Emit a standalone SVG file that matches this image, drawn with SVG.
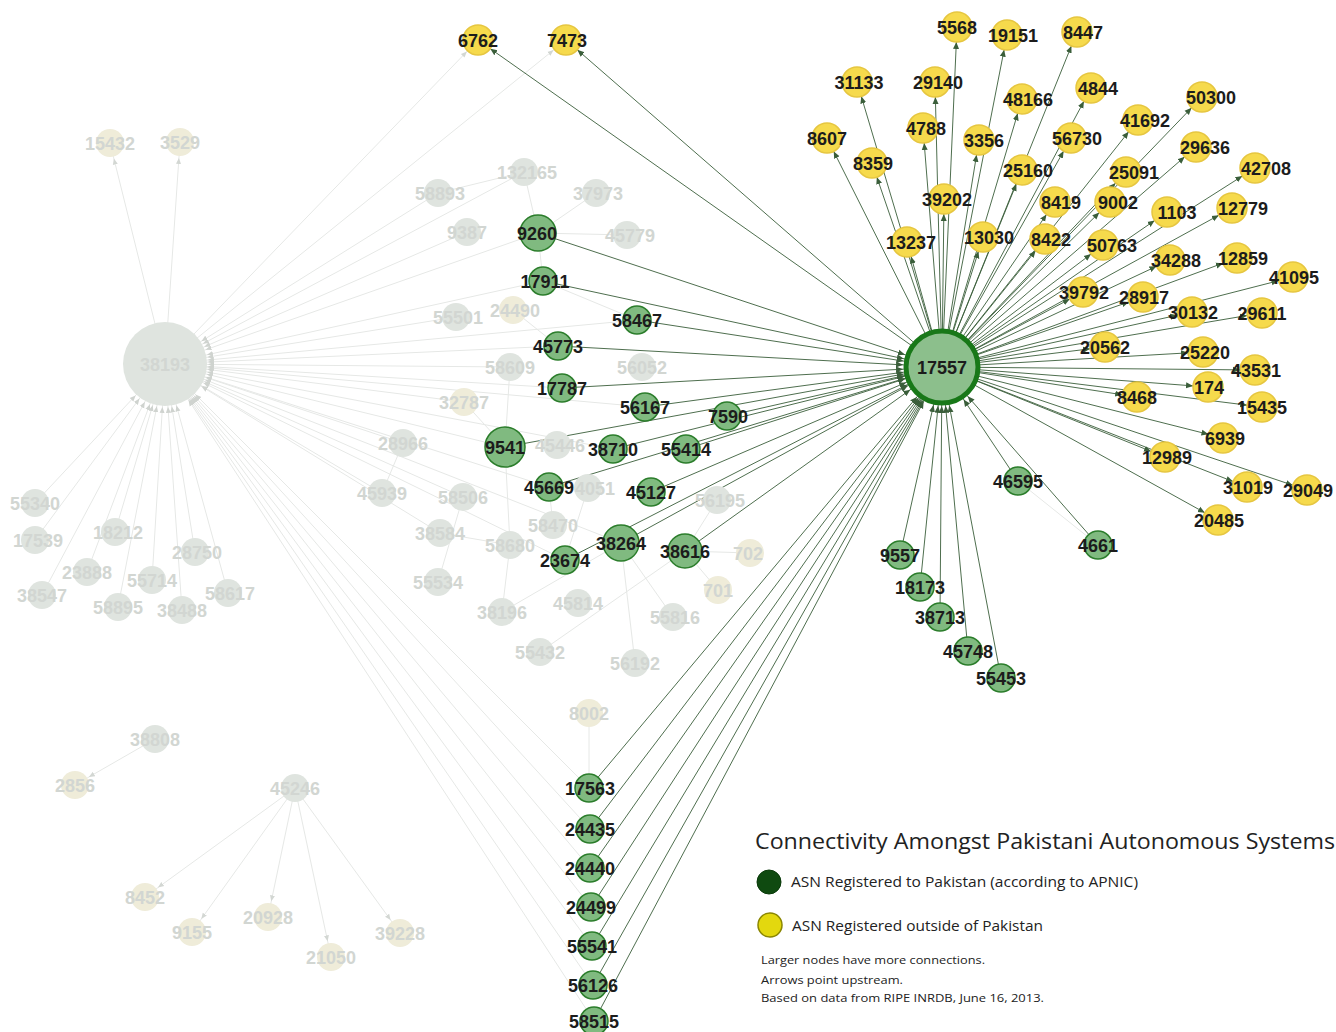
<svg xmlns="http://www.w3.org/2000/svg" width="1336" height="1032" viewBox="0 0 1336 1032">
<style>
.fe{stroke:#e6e8e6;stroke-width:1;fill:none}
.de{stroke:#3a5e3a;stroke-width:0.9;fill:none}
.g{fill:#80ba80;stroke:#2b7d2b;stroke-width:1.5}
.y{fill:#f6da4c;stroke:#e6c640;stroke-width:1.5}
.fg{fill:#dfe4df}
.fy{fill:#efecd9}
.t{font-family:"Liberation Sans",Arial,sans-serif;font-weight:bold;font-size:18px;text-anchor:middle;fill:#1c1c1c}
.ft{font-family:"Liberation Sans",Arial,sans-serif;font-weight:bold;font-size:18px;text-anchor:middle;fill:#d2d6d2}
.lg{font-family:"Open Sans","Liberation Sans",sans-serif;fill:#222}
</style>
<defs>
<marker id="aS" markerUnits="userSpaceOnUse" viewBox="0 -4 30 8" markerWidth="30" markerHeight="8" refX="22" refY="0" orient="auto"><path d="M0,-3 L7,0 L0,3 z" fill="#3a5e3a"/></marker>
<marker id="aH" markerUnits="userSpaceOnUse" viewBox="0 -4 50 8" markerWidth="50" markerHeight="8" refX="46" refY="0" orient="auto"><path d="M0,-3 L7,0 L0,3 z" fill="#3a5e3a"/></marker>
<marker id="fS" markerUnits="userSpaceOnUse" viewBox="0 -4 30 8" markerWidth="30" markerHeight="8" refX="22" refY="0" orient="auto"><path d="M0,-2.5 L6,0 L0,2.5 z" fill="#d3d7d3"/></marker>
<marker id="fH" markerUnits="userSpaceOnUse" viewBox="0 -4 55 8" markerWidth="55" markerHeight="8" refX="49" refY="0" orient="auto"><path d="M0,-2.5 L6,0 L0,2.5 z" fill="#cfd3cf"/></marker>
</defs>
<rect width="1336" height="1032" fill="#ffffff"/>

<g id="connectors">
<g class="fe" marker-end="url(#fS)">
<line x1="165" y1="364" x2="110" y2="143"/>
<line x1="165" y1="364" x2="180" y2="142"/>
<line x1="165" y1="364" x2="478" y2="40"/>
<line x1="165" y1="364" x2="566" y2="40"/>
<line x1="155" y1="739" x2="75" y2="785"/>
<line x1="295" y1="788" x2="145" y2="897"/>
<line x1="295" y1="788" x2="192" y2="932"/>
<line x1="295" y1="788" x2="268" y2="917"/>
<line x1="295" y1="788" x2="331" y2="957"/>
<line x1="295" y1="788" x2="400" y2="933"/>
</g>
<g class="fe" marker-end="url(#fH)">
<line x1="35" y1="503" x2="165" y2="364"/>
<line x1="35" y1="540" x2="165" y2="364"/>
<line x1="115" y1="532" x2="165" y2="364"/>
<line x1="195" y1="552" x2="165" y2="364"/>
<line x1="87" y1="572" x2="165" y2="364"/>
<line x1="152" y1="580" x2="165" y2="364"/>
<line x1="42" y1="595" x2="165" y2="364"/>
<line x1="118" y1="607" x2="165" y2="364"/>
<line x1="182" y1="610" x2="165" y2="364"/>
<line x1="228" y1="593" x2="165" y2="364"/>
<line x1="589" y1="788" x2="165" y2="364"/>
<line x1="590" y1="829" x2="165" y2="364"/>
<line x1="590" y1="868" x2="165" y2="364"/>
<line x1="591" y1="907" x2="165" y2="364"/>
<line x1="592" y1="946" x2="165" y2="364"/>
<line x1="593" y1="985" x2="165" y2="364"/>
<line x1="594" y1="1021" x2="165" y2="364"/>
<line x1="524" y1="172" x2="165" y2="364"/>
<line x1="438" y1="193" x2="165" y2="364"/>
<line x1="467" y1="232" x2="165" y2="364"/>
<line x1="538" y1="233" x2="165" y2="364"/>
<line x1="543" y1="281" x2="165" y2="364"/>
<line x1="456" y1="317" x2="165" y2="364"/>
<line x1="637" y1="320" x2="165" y2="364"/>
<line x1="558" y1="346" x2="165" y2="364"/>
<line x1="510" y1="367" x2="165" y2="364"/>
<line x1="562" y1="388" x2="165" y2="364"/>
<line x1="464" y1="402" x2="165" y2="364"/>
<line x1="645" y1="407" x2="165" y2="364"/>
<line x1="505" y1="447" x2="165" y2="364"/>
<line x1="403" y1="443" x2="165" y2="364"/>
<line x1="613" y1="449" x2="165" y2="364"/>
<line x1="549" y1="487" x2="165" y2="364"/>
<line x1="382" y1="493" x2="165" y2="364"/>
<line x1="463" y1="497" x2="165" y2="364"/>
<line x1="621" y1="543" x2="165" y2="364"/>
<line x1="565" y1="560" x2="165" y2="364"/>
<line x1="440" y1="533" x2="165" y2="364"/>
</g>
<g class="fe">
<line x1="524" y1="172" x2="438" y2="193"/>
<line x1="524" y1="172" x2="538" y2="233"/>
<line x1="596" y1="193" x2="538" y2="233"/>
<line x1="538" y1="233" x2="627" y2="235"/>
<line x1="538" y1="233" x2="543" y2="281"/>
<line x1="543" y1="281" x2="637" y2="320"/>
<line x1="513" y1="310" x2="558" y2="346"/>
<line x1="510" y1="367" x2="505" y2="447"/>
<line x1="464" y1="402" x2="505" y2="447"/>
<line x1="505" y1="447" x2="510" y2="545"/>
<line x1="403" y1="443" x2="382" y2="493"/>
<line x1="463" y1="497" x2="438" y2="582"/>
<line x1="440" y1="533" x2="510" y2="545"/>
<line x1="510" y1="545" x2="502" y2="612"/>
<line x1="549" y1="487" x2="553" y2="525"/>
<line x1="621" y1="543" x2="635" y2="663"/>
<line x1="621" y1="543" x2="673" y2="617"/>
<line x1="685" y1="551" x2="750" y2="553"/>
<line x1="685" y1="551" x2="718" y2="590"/>
<line x1="685" y1="551" x2="717" y2="500"/>
<line x1="540" y1="652" x2="685" y2="551"/>
<line x1="502" y1="612" x2="621" y2="543"/>
<line x1="589" y1="713" x2="589" y2="788"/>
<line x1="588" y1="488" x2="565" y2="560"/>
<line x1="1098" y1="545" x2="1018" y2="481"/>
</g>
<g class="de" marker-end="url(#aS)">
<line x1="942" y1="367" x2="478" y2="40"/>
<line x1="942" y1="367" x2="566" y2="40"/>
<line x1="942" y1="367" x2="957" y2="27"/>
<line x1="942" y1="367" x2="1007" y2="35"/>
<line x1="942" y1="367" x2="1077" y2="32"/>
<line x1="942" y1="367" x2="857" y2="82"/>
<line x1="942" y1="367" x2="935" y2="82"/>
<line x1="942" y1="367" x2="1091" y2="88"/>
<line x1="942" y1="367" x2="1022" y2="99"/>
<line x1="942" y1="367" x2="1202" y2="97"/>
<line x1="942" y1="367" x2="1138" y2="120"/>
<line x1="942" y1="367" x2="827" y2="138"/>
<line x1="942" y1="367" x2="923" y2="128"/>
<line x1="942" y1="367" x2="979" y2="140"/>
<line x1="942" y1="367" x2="1071" y2="138"/>
<line x1="942" y1="367" x2="1196" y2="147"/>
<line x1="942" y1="367" x2="872" y2="163"/>
<line x1="942" y1="367" x2="1022" y2="170"/>
<line x1="942" y1="367" x2="1126" y2="172"/>
<line x1="942" y1="367" x2="1255" y2="168"/>
<line x1="942" y1="367" x2="944" y2="199"/>
<line x1="942" y1="367" x2="1055" y2="202"/>
<line x1="942" y1="367" x2="1110" y2="202"/>
<line x1="942" y1="367" x2="1167" y2="212"/>
<line x1="942" y1="367" x2="1232" y2="208"/>
<line x1="942" y1="367" x2="907" y2="242"/>
<line x1="942" y1="367" x2="983" y2="237"/>
<line x1="942" y1="367" x2="1045" y2="239"/>
<line x1="942" y1="367" x2="1103" y2="245"/>
<line x1="942" y1="367" x2="1170" y2="260"/>
<line x1="942" y1="367" x2="1237" y2="258"/>
<line x1="942" y1="367" x2="1293" y2="277"/>
<line x1="942" y1="367" x2="1083" y2="292"/>
<line x1="942" y1="367" x2="1143" y2="297"/>
<line x1="942" y1="367" x2="1192" y2="312"/>
<line x1="942" y1="367" x2="1262" y2="313"/>
<line x1="942" y1="367" x2="1105" y2="347"/>
<line x1="942" y1="367" x2="1203" y2="352"/>
<line x1="942" y1="367" x2="1255" y2="370"/>
<line x1="942" y1="367" x2="1208" y2="387"/>
<line x1="942" y1="367" x2="1137" y2="397"/>
<line x1="942" y1="367" x2="1262" y2="407"/>
<line x1="942" y1="367" x2="1223" y2="438"/>
<line x1="942" y1="367" x2="1165" y2="457"/>
<line x1="942" y1="367" x2="1247" y2="487"/>
<line x1="942" y1="367" x2="1307" y2="490"/>
<line x1="942" y1="367" x2="1218" y2="520"/>
</g>
<g class="de" marker-end="url(#aH)">
<line x1="538" y1="233" x2="942" y2="367"/>
<line x1="543" y1="281" x2="942" y2="367"/>
<line x1="637" y1="320" x2="942" y2="367"/>
<line x1="558" y1="346" x2="942" y2="367"/>
<line x1="562" y1="388" x2="942" y2="367"/>
<line x1="645" y1="407" x2="942" y2="367"/>
<line x1="727" y1="416" x2="942" y2="367"/>
<line x1="505" y1="447" x2="942" y2="367"/>
<line x1="613" y1="449" x2="942" y2="367"/>
<line x1="686" y1="449" x2="942" y2="367"/>
<line x1="549" y1="487" x2="942" y2="367"/>
<line x1="651" y1="492" x2="942" y2="367"/>
<line x1="621" y1="543" x2="942" y2="367"/>
<line x1="685" y1="551" x2="942" y2="367"/>
<line x1="565" y1="560" x2="942" y2="367"/>
<line x1="589" y1="788" x2="942" y2="367"/>
<line x1="590" y1="829" x2="942" y2="367"/>
<line x1="590" y1="868" x2="942" y2="367"/>
<line x1="591" y1="907" x2="942" y2="367"/>
<line x1="592" y1="946" x2="942" y2="367"/>
<line x1="593" y1="985" x2="942" y2="367"/>
<line x1="594" y1="1021" x2="942" y2="367"/>
<line x1="1018" y1="481" x2="942" y2="367"/>
<line x1="1098" y1="545" x2="942" y2="367"/>
<line x1="900" y1="555" x2="942" y2="367"/>
<line x1="920" y1="587" x2="942" y2="367"/>
<line x1="940" y1="617" x2="942" y2="367"/>
<line x1="968" y1="651" x2="942" y2="367"/>
<line x1="1001" y1="678" x2="942" y2="367"/>
</g>
</g>

<g id="faded-nodes">
<g id="n38193"><circle cx="165" cy="364" r="42" class="fg"/><text x="165" y="371" class="ft">38193</text></g>
<g id="n15432"><circle cx="110" cy="143" r="14" class="fy"/><text x="110" y="150" class="ft">15432</text></g>
<g id="n3529"><circle cx="180" cy="142" r="14" class="fy"/><text x="180" y="149" class="ft">3529</text></g>
<g id="n55340"><circle cx="35" cy="503" r="14" class="fg"/><text x="35" y="510" class="ft">55340</text></g>
<g id="n17539"><circle cx="35" cy="540" r="14" class="fg"/><text x="38" y="547" class="ft">17539</text></g>
<g id="n18212"><circle cx="115" cy="532" r="14" class="fg"/><text x="118" y="539" class="ft">18212</text></g>
<g id="n28750"><circle cx="195" cy="552" r="14" class="fg"/><text x="197" y="559" class="ft">28750</text></g>
<g id="n23888"><circle cx="87" cy="572" r="14" class="fg"/><text x="87" y="579" class="ft">23888</text></g>
<g id="n55714"><circle cx="152" cy="580" r="14" class="fg"/><text x="152" y="587" class="ft">55714</text></g>
<g id="n38547"><circle cx="42" cy="595" r="14" class="fg"/><text x="42" y="602" class="ft">38547</text></g>
<g id="n58895"><circle cx="118" cy="607" r="14" class="fg"/><text x="118" y="614" class="ft">58895</text></g>
<g id="n38488"><circle cx="182" cy="610" r="14" class="fg"/><text x="182" y="617" class="ft">38488</text></g>
<g id="n58617"><circle cx="228" cy="593" r="14" class="fg"/><text x="230" y="600" class="ft">58617</text></g>
<g id="n132165"><circle cx="524" cy="172" r="14" class="fg"/><text x="527" y="179" class="ft">132165</text></g>
<g id="n58893"><circle cx="438" cy="193" r="14" class="fg"/><text x="440" y="200" class="ft">58893</text></g>
<g id="n37973"><circle cx="596" cy="193" r="14" class="fg"/><text x="598" y="200" class="ft">37973</text></g>
<g id="n9387"><circle cx="467" cy="232" r="14" class="fg"/><text x="467" y="239" class="ft">9387</text></g>
<g id="n45779"><circle cx="627" cy="235" r="14" class="fg"/><text x="630" y="242" class="ft">45779</text></g>
<g id="n55501"><circle cx="456" cy="317" r="14" class="fg"/><text x="458" y="324" class="ft">55501</text></g>
<g id="n24490"><circle cx="513" cy="310" r="14" class="fy"/><text x="515" y="317" class="ft">24490</text></g>
<g id="n58609"><circle cx="510" cy="367" r="14" class="fg"/><text x="510" y="374" class="ft">58609</text></g>
<g id="n56052"><circle cx="642" cy="367" r="14" class="fg"/><text x="642" y="374" class="ft">56052</text></g>
<g id="n32787"><circle cx="464" cy="402" r="14" class="fy"/><text x="464" y="409" class="ft">32787</text></g>
<g id="n28966"><circle cx="403" cy="443" r="14" class="fg"/><text x="403" y="450" class="ft">28966</text></g>
<g id="n45446"><circle cx="557" cy="445" r="14" class="fg"/><text x="560" y="452" class="ft">45446</text></g>
<g id="n45939"><circle cx="382" cy="493" r="14" class="fg"/><text x="382" y="500" class="ft">45939</text></g>
<g id="n58506"><circle cx="463" cy="497" r="14" class="fg"/><text x="463" y="504" class="ft">58506</text></g>
<g id="n4051"><circle cx="588" cy="488" r="14" class="fg"/><text x="595" y="495" class="ft">4051</text></g>
<g id="n56195"><circle cx="717" cy="500" r="14" class="fg"/><text x="720" y="507" class="ft">56195</text></g>
<g id="n38584"><circle cx="440" cy="533" r="14" class="fg"/><text x="440" y="540" class="ft">38584</text></g>
<g id="n58470"><circle cx="553" cy="525" r="14" class="fg"/><text x="553" y="532" class="ft">58470</text></g>
<g id="n58680"><circle cx="510" cy="545" r="14" class="fg"/><text x="510" y="552" class="ft">58680</text></g>
<g id="n702"><circle cx="750" cy="553" r="14" class="fy"/><text x="748" y="560" class="ft">702</text></g>
<g id="n701"><circle cx="718" cy="590" r="14" class="fy"/><text x="718" y="597" class="ft">701</text></g>
<g id="n55534"><circle cx="438" cy="582" r="14" class="fg"/><text x="438" y="589" class="ft">55534</text></g>
<g id="n38196"><circle cx="502" cy="612" r="14" class="fg"/><text x="502" y="619" class="ft">38196</text></g>
<g id="n45814"><circle cx="578" cy="603" r="14" class="fg"/><text x="578" y="610" class="ft">45814</text></g>
<g id="n55816"><circle cx="673" cy="617" r="14" class="fg"/><text x="675" y="624" class="ft">55816</text></g>
<g id="n55432"><circle cx="540" cy="652" r="14" class="fg"/><text x="540" y="659" class="ft">55432</text></g>
<g id="n56192"><circle cx="635" cy="663" r="14" class="fg"/><text x="635" y="670" class="ft">56192</text></g>
<g id="n8002"><circle cx="589" cy="713" r="14" class="fy"/><text x="589" y="720" class="ft">8002</text></g>
<g id="n38808"><circle cx="155" cy="739" r="14" class="fg"/><text x="155" y="746" class="ft">38808</text></g>
<g id="n2856"><circle cx="75" cy="785" r="14" class="fy"/><text x="75" y="792" class="ft">2856</text></g>
<g id="n45246"><circle cx="295" cy="788" r="14" class="fg"/><text x="295" y="795" class="ft">45246</text></g>
<g id="n8452"><circle cx="145" cy="897" r="14" class="fy"/><text x="145" y="904" class="ft">8452</text></g>
<g id="n9155"><circle cx="192" cy="932" r="14" class="fy"/><text x="192" y="939" class="ft">9155</text></g>
<g id="n20928"><circle cx="268" cy="917" r="14" class="fy"/><text x="268" y="924" class="ft">20928</text></g>
<g id="n21050"><circle cx="331" cy="957" r="14" class="fy"/><text x="331" y="964" class="ft">21050</text></g>
<g id="n39228"><circle cx="400" cy="933" r="14" class="fy"/><text x="400" y="940" class="ft">39228</text></g>
</g>

<g id="yellow-nodes">
<g id="n6762"><circle cx="478" cy="40" r="15" class="y"/><text x="478" y="47" class="t">6762</text></g>
<g id="n7473"><circle cx="566" cy="40" r="15" class="y"/><text x="567" y="47" class="t">7473</text></g>
<g id="n5568"><circle cx="957" cy="27" r="15" class="y"/><text x="957" y="34" class="t">5568</text></g>
<g id="n19151"><circle cx="1007" cy="35" r="15" class="y"/><text x="1013" y="42" class="t">19151</text></g>
<g id="n8447"><circle cx="1077" cy="32" r="15" class="y"/><text x="1083" y="39" class="t">8447</text></g>
<g id="n31133"><circle cx="857" cy="82" r="15" class="y"/><text x="859" y="89" class="t">31133</text></g>
<g id="n29140"><circle cx="935" cy="82" r="15" class="y"/><text x="938" y="89" class="t">29140</text></g>
<g id="n4844"><circle cx="1091" cy="88" r="15" class="y"/><text x="1098" y="95" class="t">4844</text></g>
<g id="n48166"><circle cx="1022" cy="99" r="15" class="y"/><text x="1028" y="106" class="t">48166</text></g>
<g id="n50300"><circle cx="1202" cy="97" r="15" class="y"/><text x="1211" y="104" class="t">50300</text></g>
<g id="n41692"><circle cx="1138" cy="120" r="15" class="y"/><text x="1145" y="127" class="t">41692</text></g>
<g id="n8607"><circle cx="827" cy="138" r="15" class="y"/><text x="827" y="145" class="t">8607</text></g>
<g id="n4788"><circle cx="923" cy="128" r="15" class="y"/><text x="926" y="135" class="t">4788</text></g>
<g id="n3356"><circle cx="979" cy="140" r="15" class="y"/><text x="984" y="147" class="t">3356</text></g>
<g id="n56730"><circle cx="1071" cy="138" r="15" class="y"/><text x="1077" y="145" class="t">56730</text></g>
<g id="n29636"><circle cx="1196" cy="147" r="15" class="y"/><text x="1205" y="154" class="t">29636</text></g>
<g id="n8359"><circle cx="872" cy="163" r="15" class="y"/><text x="873" y="170" class="t">8359</text></g>
<g id="n25160"><circle cx="1022" cy="170" r="15" class="y"/><text x="1028" y="177" class="t">25160</text></g>
<g id="n25091"><circle cx="1126" cy="172" r="15" class="y"/><text x="1134" y="179" class="t">25091</text></g>
<g id="n42708"><circle cx="1255" cy="168" r="15" class="y"/><text x="1266" y="175" class="t">42708</text></g>
<g id="n39202"><circle cx="944" cy="199" r="15" class="y"/><text x="947" y="206" class="t">39202</text></g>
<g id="n8419"><circle cx="1055" cy="202" r="15" class="y"/><text x="1061" y="209" class="t">8419</text></g>
<g id="n9002"><circle cx="1110" cy="202" r="15" class="y"/><text x="1118" y="209" class="t">9002</text></g>
<g id="n1103"><circle cx="1167" cy="212" r="15" class="y"/><text x="1177" y="219" class="t">1103</text></g>
<g id="n12779"><circle cx="1232" cy="208" r="15" class="y"/><text x="1243" y="215" class="t">12779</text></g>
<g id="n13237"><circle cx="907" cy="242" r="15" class="y"/><text x="911" y="249" class="t">13237</text></g>
<g id="n13030"><circle cx="983" cy="237" r="15" class="y"/><text x="989" y="244" class="t">13030</text></g>
<g id="n8422"><circle cx="1045" cy="239" r="15" class="y"/><text x="1051" y="246" class="t">8422</text></g>
<g id="n50763"><circle cx="1103" cy="245" r="15" class="y"/><text x="1112" y="252" class="t">50763</text></g>
<g id="n34288"><circle cx="1170" cy="260" r="15" class="y"/><text x="1176" y="267" class="t">34288</text></g>
<g id="n12859"><circle cx="1237" cy="258" r="15" class="y"/><text x="1243" y="265" class="t">12859</text></g>
<g id="n41095"><circle cx="1293" cy="277" r="15" class="y"/><text x="1294" y="284" class="t">41095</text></g>
<g id="n39792"><circle cx="1083" cy="292" r="15" class="y"/><text x="1084" y="299" class="t">39792</text></g>
<g id="n28917"><circle cx="1143" cy="297" r="15" class="y"/><text x="1144" y="304" class="t">28917</text></g>
<g id="n30132"><circle cx="1192" cy="312" r="15" class="y"/><text x="1193" y="319" class="t">30132</text></g>
<g id="n29611"><circle cx="1262" cy="313" r="15" class="y"/><text x="1262" y="320" class="t">29611</text></g>
<g id="n20562"><circle cx="1105" cy="347" r="15" class="y"/><text x="1105" y="354" class="t">20562</text></g>
<g id="n25220"><circle cx="1203" cy="352" r="15" class="y"/><text x="1205" y="359" class="t">25220</text></g>
<g id="n43531"><circle cx="1255" cy="370" r="15" class="y"/><text x="1256" y="377" class="t">43531</text></g>
<g id="n174"><circle cx="1208" cy="387" r="15" class="y"/><text x="1209" y="394" class="t">174</text></g>
<g id="n8468"><circle cx="1137" cy="397" r="15" class="y"/><text x="1137" y="404" class="t">8468</text></g>
<g id="n15435"><circle cx="1262" cy="407" r="15" class="y"/><text x="1262" y="414" class="t">15435</text></g>
<g id="n6939"><circle cx="1223" cy="438" r="15" class="y"/><text x="1225" y="445" class="t">6939</text></g>
<g id="n12989"><circle cx="1165" cy="457" r="15" class="y"/><text x="1167" y="464" class="t">12989</text></g>
<g id="n31019"><circle cx="1247" cy="487" r="15" class="y"/><text x="1248" y="494" class="t">31019</text></g>
<g id="n29049"><circle cx="1307" cy="490" r="15" class="y"/><text x="1308" y="497" class="t">29049</text></g>
<g id="n20485"><circle cx="1218" cy="520" r="15" class="y"/><text x="1219" y="527" class="t">20485</text></g>
</g>

<g id="green-nodes">
<g id="n17557"><circle cx="942" cy="367" r="36" fill="#8cbf8c" stroke="#187818" stroke-width="5"/><text x="942" y="374" class="t">17557</text></g>
<g id="n9260"><circle cx="538" cy="233" r="18" class="g" stroke-width="2"/><text x="537" y="240" class="t">9260</text></g>
<g id="n17911"><circle cx="543" cy="281" r="14" class="g"/><text x="545" y="288" class="t">17911</text></g>
<g id="n58467"><circle cx="637" cy="320" r="14" class="g"/><text x="637" y="327" class="t">58467</text></g>
<g id="n45773"><circle cx="558" cy="346" r="14" class="g"/><text x="558" y="353" class="t">45773</text></g>
<g id="n17787"><circle cx="562" cy="388" r="14" class="g"/><text x="562" y="395" class="t">17787</text></g>
<g id="n56167"><circle cx="645" cy="407" r="14" class="g"/><text x="645" y="414" class="t">56167</text></g>
<g id="n7590"><circle cx="727" cy="416" r="14" class="g"/><text x="728" y="423" class="t">7590</text></g>
<g id="n9541"><circle cx="505" cy="447" r="20" class="g" stroke-width="2"/><text x="505" y="454" class="t">9541</text></g>
<g id="n38710"><circle cx="613" cy="449" r="14" class="g"/><text x="613" y="456" class="t">38710</text></g>
<g id="n55414"><circle cx="686" cy="449" r="14" class="g"/><text x="686" y="456" class="t">55414</text></g>
<g id="n45669"><circle cx="549" cy="487" r="14" class="g"/><text x="549" y="494" class="t">45669</text></g>
<g id="n45127"><circle cx="651" cy="492" r="14" class="g"/><text x="651" y="499" class="t">45127</text></g>
<g id="n38264"><circle cx="621" cy="543" r="18" class="g"/><text x="621" y="550" class="t">38264</text></g>
<g id="n38616"><circle cx="685" cy="551" r="17" class="g"/><text x="685" y="558" class="t">38616</text></g>
<g id="n23674"><circle cx="565" cy="560" r="14" class="g"/><text x="565" y="567" class="t">23674</text></g>
<g id="n46595"><circle cx="1018" cy="481" r="14" class="g"/><text x="1018" y="488" class="t">46595</text></g>
<g id="n4661"><circle cx="1098" cy="545" r="14" class="g"/><text x="1098" y="552" class="t">4661</text></g>
<g id="n9557"><circle cx="900" cy="555" r="14" class="g"/><text x="900" y="562" class="t">9557</text></g>
<g id="n18173"><circle cx="920" cy="587" r="14" class="g"/><text x="920" y="594" class="t">18173</text></g>
<g id="n38713"><circle cx="940" cy="617" r="14" class="g"/><text x="940" y="624" class="t">38713</text></g>
<g id="n45748"><circle cx="968" cy="651" r="14" class="g"/><text x="968" y="658" class="t">45748</text></g>
<g id="n55453"><circle cx="1001" cy="678" r="14" class="g"/><text x="1001" y="685" class="t">55453</text></g>
<g id="n17563"><circle cx="589" cy="788" r="14" class="g"/><text x="590" y="795" class="t">17563</text></g>
<g id="n24435"><circle cx="590" cy="829" r="14" class="g"/><text x="590" y="836" class="t">24435</text></g>
<g id="n24440"><circle cx="590" cy="868" r="14" class="g"/><text x="590" y="875" class="t">24440</text></g>
<g id="n24499"><circle cx="591" cy="907" r="14" class="g"/><text x="591" y="914" class="t">24499</text></g>
<g id="n55541"><circle cx="592" cy="946" r="14" class="g"/><text x="592" y="953" class="t">55541</text></g>
<g id="n56126"><circle cx="593" cy="985" r="14" class="g"/><text x="593" y="992" class="t">56126</text></g>
<g id="n58515"><circle cx="594" cy="1021" r="14" class="g"/><text x="594" y="1028" class="t">58515</text></g>
</g>

<g id="legend">
<text x="755" y="849" class="lg" font-size="21" textLength="580" lengthAdjust="spacingAndGlyphs">Connectivity Amongst Pakistani Autonomous Systems</text>
<circle cx="769" cy="882" r="12" fill="#0f4a10" stroke="#0a3a0a" stroke-width="1"/>
<text x="791" y="887" class="lg" font-size="14" textLength="347" lengthAdjust="spacingAndGlyphs">ASN Registered to Pakistan (according to APNIC)</text>
<circle cx="770" cy="925" r="12" fill="#e3d80e" stroke="#8a8600" stroke-width="1.5"/>
<text x="792" y="931" class="lg" font-size="14" textLength="251" lengthAdjust="spacingAndGlyphs">ASN Registered outside of Pakistan</text>
<text x="761" y="964" class="lg" font-size="10.5" textLength="224" lengthAdjust="spacingAndGlyphs">Larger nodes have more connections.</text>
<text x="761" y="984" class="lg" font-size="10.5" textLength="142" lengthAdjust="spacingAndGlyphs">Arrows point upstream.</text>
<text x="761" y="1002" class="lg" font-size="10.5" textLength="283" lengthAdjust="spacingAndGlyphs">Based on data from RIPE INRDB, June 16, 2013.</text>
</g>
</svg>
